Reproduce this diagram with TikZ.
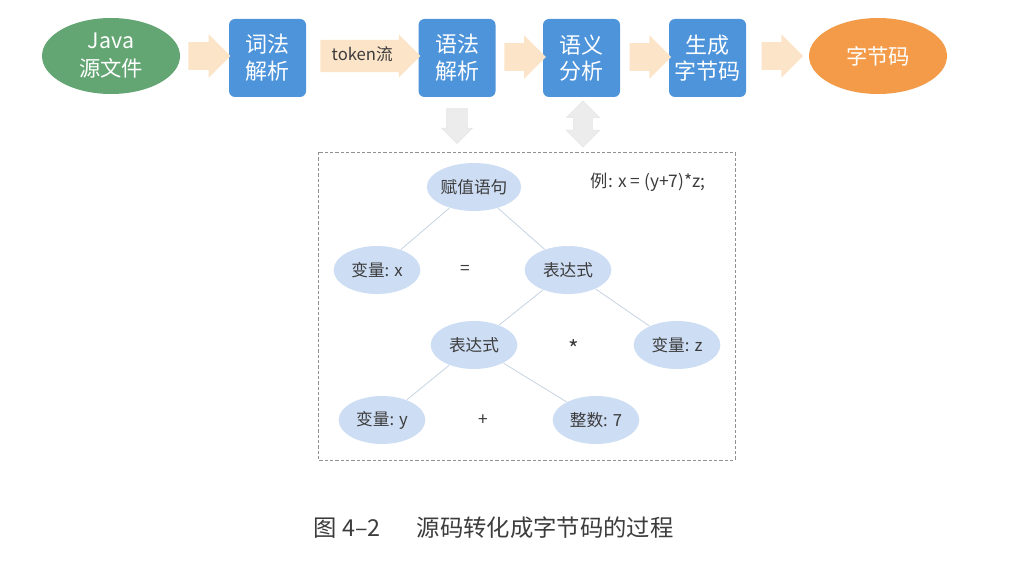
\documentclass[tikz,border=0pt]{standalone}
\usepackage{fontspec}
\setmainfont{Noto Sans CJK SC}
\usetikzlibrary{shapes.geometric,shapes.arrows,calc}

\definecolor{javagreen}{RGB}{99,166,115}
\definecolor{stageblue}{RGB}{77,148,219}
\definecolor{bcorange}{RGB}{243,155,72}
\definecolor{peach}{RGB}{252,228,200}
\definecolor{arrowgray}{RGB}{236,236,236}
\definecolor{treeblue}{RGB}{205,221,244}
\definecolor{treeline}{RGB}{198,211,226}
\definecolor{inkgray}{RGB}{60,60,60}

\tikzset{every picture/.style={line width=0.75pt}}
\tikzset{
  stage/.style={rectangle, rounded corners=4.5pt, fill=stageblue, text=white, minimum width=57.75pt, minimum height=58.5pt, inner sep=0pt, align=center, font=\fontsize{16.5}{20}\selectfont},
  endpoint/.style={ellipse, minimum width=103.5pt, minimum height=57pt, inner sep=0pt, text=white, align=center, font=\fontsize{16}{21}\selectfont},
  flow/.style={single arrow, fill=peach, inner sep=10pt, single arrow head extend=6pt},
  hint/.style={fill=arrowgray, draw={rgb,255:red,228;green,228;blue,228}, line width=0.5pt},
  leaf/.style={ellipse, fill=treeblue, minimum width=65pt, minimum height=36pt, inner sep=0pt, text=inkgray, font=\fontsize{12.5}{14}\selectfont},
  sym/.style={text=inkgray, font=\fontsize{13}{15}\selectfont},
  branch/.style={draw=treeline, line width=0.6pt}
}

\begin{document}
\begin{tikzpicture}[x=0.75pt,y=0.75pt,yscale=-1,xscale=1]
\path[use as bounding box] (0,0) rectangle (1012,570);

%Shape: Ellipse [id:java] 
\node[endpoint, fill=javagreen] (java) at (111,56) {Java\\源文件};
%Shape: Rounded Rect [id:lex] 
\node[stage] (lex) at (267.5,58) {词法\\解析};
%Shape: Rounded Rect [id:syn] 
\node[stage] (syn) at (457,58) {语法\\解析};
%Shape: Rounded Rect [id:sem] 
\node[stage] (sem) at (581.5,58) {语义\\分析};
%Shape: Rounded Rect [id:gen] 
\node[stage] (gen) at (707.5,58) {生成\\字节码};
%Shape: Ellipse [id:bytecode] 
\node[endpoint, fill=bcorange] (bytecode) at (878,56) {字节码};

%Right Arrows
\node[flow, minimum height=31.5pt] (toLex) at ($(java.east)!0.5!(lex.west)+(-2,-1)$) {};
\node[flow, minimum height=75pt, inner xsep=3pt, inner ysep=6pt, text height=9pt, text depth=2.5pt, single arrow head extend=4pt, text=inkgray, font=\fontsize{12.5}{14}\selectfont] (token) at ($(lex.east)!0.5!(syn.west)+(0,-2)$) {token流\hspace{13pt}};
\node[flow, minimum height=28.5pt] (toSem) at ($(syn.east)!0.5!(sem.west)+(-1,-1)$) {};
\node[flow, minimum height=28.5pt] (toGen) at ($(sem.east)!0.5!(gen.west)+(-1,-1)$) {};
\node[flow, minimum height=30pt] (toCode) at ($(gen.east)!0.5!(bytecode.west)+(-2,-1)$) {};

%Down Arrow
\node[hint, single arrow, shape border rotate=270, inner sep=7.5pt, minimum height=26pt, single arrow head extend=3.75pt] (tree) at (457,121) {};
%Up Down Arrow
\node[hint, double arrow, shape border rotate=90, inner sep=6.75pt, minimum height=34.5pt, double arrow head extend=5.5pt] (check) at (583,124) {};

%Shape: Rectangle [id:frame] 
\draw[draw={rgb,255:red,145;green,145;blue,145}, dash pattern=on 2.5pt off 1.5pt, line width=0.6pt] (318,152) rectangle (735,460);

% Tree Nodes
\node[leaf] (assign) at (474,187) {赋值语句};
\node[leaf] (varX) at (377,270) {变量: x};
\node[sym] (eq) at (465,270) {=};
\node[leaf] (exprA) at (568,270) {表达式};
\node[leaf] (exprB) at (474,345) {表达式};
\node[sym, font=\fontsize{17}{17}\selectfont] (times) at (574,348) {*};
\node[leaf] (varZ) at (677,345) {变量: z};
\node[leaf] (varY) at (382,420) {变量: y};
\node[sym] (plus) at (483,420) {+};
\node[leaf] (intSeven) at (596,420) {整数: 7};

% Tree Branches
\draw[branch] (assign) -- (varX);
\draw[branch] (assign) -- (exprA);
\draw[branch] (exprA) -- (exprB);
\draw[branch] (exprA) -- (varZ);
\draw[branch] (exprB) -- (varY);
\draw[branch] (exprB) -- (intSeven);

% Text Node
\node[sym, anchor=west] (example) at (586,182) {例: x = (y+7)*z;};

% Text Node
\node[text=inkgray, font=\fontsize{17.5}{19}\selectfont] (figno) at (347,528) {图 4–2};
% Text Node
\node[text=inkgray, font=\fontsize{17.5}{19}\selectfont] (caption) at (545,528) {源码转化成字节码的过程};

\end{tikzpicture}
\end{document}
